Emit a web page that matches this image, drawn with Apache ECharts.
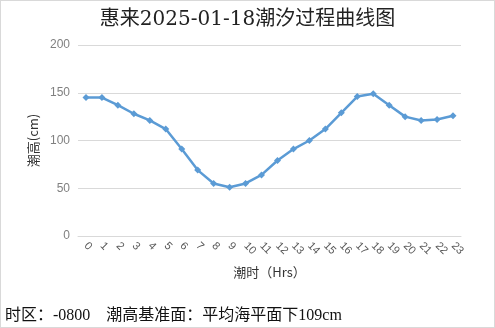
<!DOCTYPE html>
<html>
<head>
<meta charset="utf-8">
<script src="https://cdn.jsdelivr.net/npm/echarts@6/dist/echarts.min.js"></script>
<style>
  html, body { margin: 0; padding: 0; background: #fff; }
  #chart { width: 495px; height: 328px; box-sizing: border-box; border: 1px solid #d9d9d9; }
</style>
</head>
<body>
<div id="chart"></div>
<script>
const hours = ['0','1','2','3','4','5','6','7','8','9','10','11','12','13','14','15','16','17','18','19','20','21','22','23'];
const tideHeights = [145, 145, 137, 128, 121, 112, 91, 69, 55, 51, 55, 64, 79, 91, 100, 112, 129, 146, 149, 137, 125, 121, 122, 126];

const titleText = '惠来2025-01-18潮汐过程曲线图';
const footText = '时区：-0800    潮高基准面：平均海平面下109cm';

const chart = echarts.init(document.getElementById('chart'), null, { renderer: 'canvas' });

chart.setOption({
    animation: false,
    title: {
        text: titleText,
        left: 'center',
        top: 4,
        textStyle: {
            fontFamily: '"DejaVu Serif", "Noto Sans CJK SC", serif',
            fontSize: 20,
            fontWeight: 'normal',
            color: '#222'
        }
    },
    grid: { left: 77, right: 33, top: 44, bottom: 91 },
    xAxis: {
        type: 'category',
        data: hours,
        boundaryGap: true,
        name: '潮时（Hrs）',
        nameLocation: 'middle',
        nameGap: 30,
        nameTextStyle: { color: '#333', fontSize: 13, fontFamily: '"Noto Sans CJK SC", sans-serif' },
        axisLine: { show: true, lineStyle: { color: '#d9d9d9' } },
        axisTick: { show: false },
        axisLabel: { interval: 0, rotate: -45, color: '#595959', fontSize: 11, margin: 8 }
    },
    yAxis: {
        type: 'value',
        min: 0,
        max: 200,
        interval: 50,
        name: '潮高(cm)',
        nameLocation: 'middle',
        nameGap: 35,
        nameTextStyle: { color: '#333', fontSize: 13, fontFamily: '"Noto Sans CJK SC", sans-serif' },
        axisLine: { show: false },
        axisTick: { show: false },
        axisLabel: { color: '#808080', fontSize: 12, margin: 8 },
        splitLine: { lineStyle: { color: '#d9d9d9', width: 1 } }
    },
    series: [{
        type: 'line',
        data: tideHeights,
        symbol: 'diamond',
        symbolSize: 7,
        lineStyle: { color: '#5b9bd5', width: 2.5 },
        itemStyle: { color: '#5b9bd5' }
    }],
    graphic: [{
        type: 'text',
        left: 4,
        top: 307,
        style: {
            text: footText,
            fill: '#111',
            fontSize: 16,
            fontFamily: '"Liberation Serif", "Noto Sans CJK SC", serif'
        }
    }]
});
</script>
</body>
</html>
